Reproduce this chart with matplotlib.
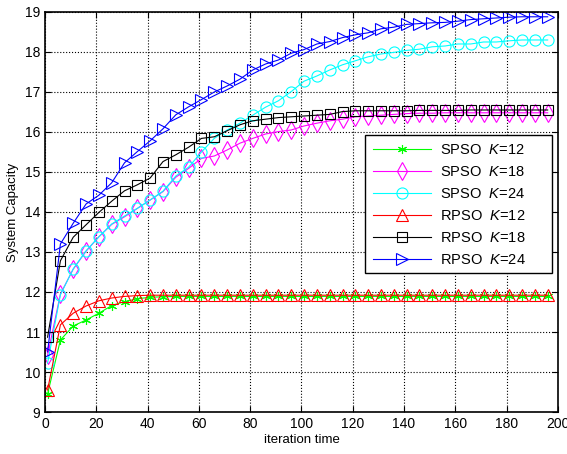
import matplotlib
matplotlib.use('Agg')
import matplotlib.pyplot as plt
from matplotlib.patches import Rectangle

plt.rcParams['font.family'] = ['Liberation Sans', 'DejaVu Sans']
plt.rcParams['mathtext.fontset'] = 'custom'
plt.rcParams['mathtext.it'] = 'Liberation Sans:italic'
plt.rcParams['mathtext.rm'] = 'Liberation Sans'

# iteration index of every plotted point
iters = [1, 6, 11, 16, 21, 26, 31, 36, 41, 46,
         51, 56, 61, 66, 71, 76, 81, 86, 91, 96,
         101, 106, 111, 116, 121, 126, 131, 136, 141, 146,
         151, 156, 161, 166, 171, 176, 181, 186, 191, 196]

spso_12 = [9.45, 10.8, 11.15, 11.3, 11.47, 11.66, 11.76, 11.83, 11.87, 11.88,
           11.89, 11.89, 11.89, 11.89, 11.89, 11.89, 11.89, 11.89, 11.89, 11.89,
           11.89, 11.89, 11.89, 11.89, 11.89, 11.89, 11.89, 11.89, 11.89, 11.89,
           11.89, 11.89, 11.89, 11.89, 11.89, 11.89, 11.89, 11.89, 11.89, 11.89]
spso_18 = [10.42, 11.95, 12.57, 13.02, 13.38, 13.69, 13.88, 14.09, 14.3, 14.51,
           14.87, 15.09, 15.34, 15.4, 15.55, 15.72, 15.84, 15.95, 16.01, 16.05,
           16.15, 16.22, 16.28, 16.32, 16.38, 16.4, 16.42, 16.44, 16.46, 16.47,
           16.47, 16.48, 16.48, 16.48, 16.48, 16.48, 16.48, 16.48, 16.48, 16.48]
spso_24 = [10.22, 11.93, 12.58, 13.03, 13.38, 13.7, 13.9, 14.09, 14.3, 14.52,
           14.9, 15.12, 15.5, 15.84, 16.05, 16.22, 16.42, 16.62, 16.78, 17.01,
           17.27, 17.4, 17.55, 17.68, 17.78, 17.88, 17.95, 17.99, 18.04, 18.07,
           18.13, 18.15, 18.2, 18.2, 18.25, 18.25, 18.28, 18.3, 18.3, 18.3]
rpso_12 = [9.55, 11.18, 11.47, 11.65, 11.78, 11.85, 11.89, 11.91, 11.92, 11.92,
           11.92, 11.92, 11.92, 11.92, 11.92, 11.92, 11.92, 11.92, 11.92, 11.92,
           11.92, 11.92, 11.92, 11.92, 11.92, 11.92, 11.92, 11.92, 11.92, 11.92,
           11.92, 11.92, 11.92, 11.92, 11.92, 11.92, 11.92, 11.92, 11.92, 11.92]
rpso_18 = [10.87, 12.78, 13.37, 13.68, 13.99, 14.27, 14.53, 14.68, 14.85, 15.26,
           15.43, 15.62, 15.84, 15.88, 16.03, 16.18, 16.28, 16.32, 16.36, 16.38,
           16.4, 16.42, 16.44, 16.51, 16.53, 16.53, 16.53, 16.53, 16.53, 16.54,
           16.54, 16.54, 16.54, 16.55, 16.55, 16.55, 16.55, 16.55, 16.55, 16.55]
rpso_24 = [10.5, 13.2, 13.72, 14.2, 14.42, 14.73, 15.23, 15.51, 15.78, 16.08,
           16.43, 16.63, 16.81, 17.0, 17.15, 17.32, 17.55, 17.7, 17.8, 17.97,
           18.06, 18.2, 18.26, 18.36, 18.43, 18.48, 18.58, 18.62, 18.69, 18.71,
           18.73, 18.74, 18.77, 18.81, 18.83, 18.85, 18.87, 18.88, 18.88, 18.88]

labels = ['SPSO  $K$=12', 'SPSO  $K$=18', 'SPSO  $K$=24',
          'RPSO  $K$=12', 'RPSO  $K$=18', 'RPSO  $K$=24']

fig = plt.figure(figsize=(5.67, 4.54), dpi=100)
ax = fig.add_axes([0.0794, 0.0925, 0.9046, 0.8811])

ax.plot(iters, spso_12, color=(0, 1, 0), lw=0.8, marker=(6, 2, 0), ms=6.5, mew=0.8, label=labels[0])
ax.plot(iters, spso_18, color=(1, 0, 1), lw=0.8, marker='d', ms=9, mfc='none', mew=0.8, label=labels[1])
ax.plot(iters, spso_24, color=(0, 1, 1), lw=0.8, marker='o', ms=8, mfc='none', mew=0.8, label=labels[2])
ax.plot(iters, rpso_12, color=(1, 0, 0), lw=0.8, marker='^', ms=8, mfc='none', mew=0.8, label=labels[3])
ax.plot(iters, rpso_18, color='k', lw=0.8, marker='s', ms=7.5, mfc='none', mew=0.8, label=labels[4])
ax.plot(iters, rpso_24, color=(0, 0, 1), lw=0.8, marker='>', ms=8, mfc='none', mew=0.8, label=labels[5])

ax.set_xlim(0, 200)
ax.set_ylim(9, 19)
ax.set_xticks(range(0, 201, 20))
ax.set_yticks(range(9, 20))
ax.tick_params(direction='in', top=True, right=True, labelsize=10, length=4)
ax.grid(True, linestyle=':', color='k', linewidth=0.8)
for s in ax.spines.values():
    s.set_linewidth(1.2)

ax.set_xlabel('iteration time', fontsize=9.5, labelpad=2)
ax.set_ylabel('System Capacity', fontsize=9.5, labelpad=4)

# legend box is wider than the entries, so draw the frame by hand
ax.add_patch(Rectangle((0.624, 0.3475), 0.364, 0.345, transform=ax.transAxes,
                       facecolor='white', edgecolor='k', linewidth=1.0, zorder=4))
leg = ax.legend(loc='upper left', bbox_to_anchor=(0.624, 0.6925), borderaxespad=0,
                fontsize=10.5, frameon=False,
                handlelength=4.0, handletextpad=0.6, labelspacing=0.55,
                borderpad=0.55)
leg.set_zorder(5)

fig.savefig('out.png', dpi=100)
